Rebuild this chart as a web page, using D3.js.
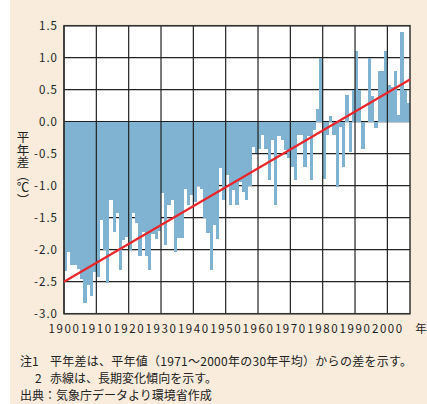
<!DOCTYPE html>
<html>
<head>
<meta charset="utf-8">
<script src="https://cdn.jsdelivr.net/npm/d3@7"></script>
<style>
body { margin: 0; background: #fff; }
text { font-family: "Noto Sans CJK JP", sans-serif; }
</style>
</head>
<body>
<script>
// 平年差 (℃), 1900年から1年ずつ
var firstYear = 1900;
var anomalies = [
    -2.33, -2.03, -2.24, -2.24, -2.30, -2.45, -2.83, -2.55, -2.73, -2.35,
    -2.42, -1.54, -2.00, -2.52, -1.22, -1.72, -1.43, -2.32, -1.85, -1.80,
    -2.00, -1.43, -1.58, -2.10, -1.72, -2.10, -2.32, -1.75, -1.83, -1.70,
    -1.12, -1.93, -1.30, -1.22, -2.03, -1.82, -1.82, -1.05, -1.30, -1.15,
    -1.25, -1.00, -1.05, -1.50, -1.74, -2.32, -1.62, -1.83, -0.72, -1.22,
    -0.83, -1.30, -1.07, -1.30, -0.94, -1.10, -1.22, -1.01, -0.39, -0.49,
    -0.42, -0.21, -0.42, -0.91, -0.29, -1.30, -0.23, -0.29, -0.44, -0.57,
    -0.70, -0.91, -0.20, -0.20, -0.70, -0.23, -0.91, -0.13, 0.20, 0.99,
    -0.90, -0.20, 0.09, -0.20, -1.02, -0.08, -0.70, 0.41, -0.48, 0.50,
    1.10, 0.50, -0.42, 0.00, 0.99, 0.40, -0.10, 0.80, 0.80, 1.10,
    0.58, 0.55, 0.80, 0.10, 1.40, 0.50, 0.30
];
var yTicks = [1.5, 1.0, 0.5, 0.0, -0.5, -1.0, -1.5, -2.0, -2.5, -3.0];
var xTicks = [1900, 1910, 1920, 1930, 1940, 1950, 1960, 1970, 1980, 1990, 2000];
var trendYears = [1900, 2007];
var trendValues = [-2.5, 0.66];
var yLabel = "平年差（℃）";
var xUnit = "年";
var notes = [
    ["注1", "平年差は、平年値（1971～2000年の30年平均）からの差を示す。"],
    ["2", "赤線は、長期変化傾向を示す。"],
    ["出典：気象庁データより環境省作成", ""]
];

var w = 427;
var h = 404;
var plotLeft = 64, plotRight = 410, plotTop = 25.7, plotBottom = 313.7;

var svg = d3.select("body")
    .append("svg")
    .attr("width", w)
    .attr("height", h);

svg.append("rect")
    .attr("x", 10)
    .attr("y", 0)
    .attr("width", w - 10)
    .attr("height", h)
    .attr("fill", "#f9ecdd");

var xScale = d3.scaleLinear()
    .domain([firstYear, trendYears[1]])
    .range([plotLeft, plotRight]);

var yScale = d3.scaleLinear()
    .domain([-3, 1.5])
    .range([plotBottom, plotTop]);

svg.append("rect")
    .attr("x", plotLeft)
    .attr("y", plotTop)
    .attr("width", plotRight - plotLeft)
    .attr("height", plotBottom - plotTop)
    .attr("fill", "#fff");

// 横の目盛線は棒の下
svg.append("g")
    .selectAll("line")
    .data(yTicks)
    .enter()
    .append("line")
    .attr("x1", plotLeft)
    .attr("x2", plotRight)
    .attr("y1", function(d) { return yScale(d); })
    .attr("y2", function(d) { return yScale(d); })
    .attr("stroke", "#222")
    .attr("stroke-width", 1.2);

svg.append("g")
    .selectAll("rect")
    .data(anomalies)
    .enter()
    .append("rect")
    .attr("x", function(d, i) { return xScale(firstYear + i); })
    .attr("width", function(d, i) { return xScale(firstYear + i + 1) - xScale(firstYear + i); })
    .attr("y", function(d) { return yScale(Math.max(d, 0)); })
    .attr("height", function(d) { return Math.abs(yScale(d) - yScale(0)); })
    .attr("fill", "#7fb3d1")
    .attr("shape-rendering", "crispEdges");

// 縦の目盛線は棒の上
svg.append("g")
    .selectAll("line")
    .data(xTicks)
    .enter()
    .append("line")
    .attr("x1", function(d) { return xScale(d); })
    .attr("x2", function(d) { return xScale(d); })
    .attr("y1", plotTop)
    .attr("y2", plotBottom)
    .attr("stroke", "#222")
    .attr("stroke-width", 1.2);

svg.append("rect")
    .attr("x", plotLeft)
    .attr("y", plotTop)
    .attr("width", plotRight - plotLeft)
    .attr("height", plotBottom - plotTop)
    .attr("fill", "none")
    .attr("stroke", "#333")
    .attr("stroke-width", 1.5);

svg.append("line")
    .attr("x1", xScale(trendYears[0]))
    .attr("y1", yScale(trendValues[0]))
    .attr("x2", xScale(trendYears[1]))
    .attr("y2", yScale(trendValues[1]))
    .attr("stroke", "#e8262b")
    .attr("stroke-width", 2.2);

var yAxis = d3.axisLeft(yScale)
    .tickValues(yTicks)
    .tickSize(0)
    .tickPadding(6)
    .tickFormat(function(d) { return d3.format(".1f")(d).replace("−", "-"); });

var gy = svg.append("g")
    .attr("transform", "translate(" + plotLeft + ",0)")
    .call(yAxis);
gy.select(".domain").remove();
gy.selectAll("text")
    .attr("font-family", "Noto Sans CJK JP")
    .attr("font-size", "11.5px")
    .attr("letter-spacing", "1px")
    .attr("fill", "#222");

var xAxis = d3.axisBottom(xScale)
    .tickValues(xTicks)
    .tickSize(0)
    .tickPadding(11)
    .tickFormat(function(d) { return d; });

var gx = svg.append("g")
    .attr("transform", "translate(0," + plotBottom + ")")
    .call(xAxis);
gx.select(".domain").remove();
gx.selectAll("text")
    .attr("font-family", "Noto Sans CJK JP")
    .attr("font-size", "11.5px")
    .attr("letter-spacing", "1.6px")
    .attr("fill", "#222");

svg.append("text")
    .attr("x", 421)
    .attr("y", 333)
    .attr("text-anchor", "middle")
    .attr("font-size", "11.5px")
    .attr("fill", "#222")
    .text(xUnit);

svg.append("text")
    .attr("x", 23)
    .attr("y", 131)
    .style("writing-mode", "vertical-rl")
    .attr("font-size", "12.5px")
    .attr("fill", "#222")
    .text(yLabel);

var noteY = [366, 383, 400];
var noteWidth = [362, 167, 0];
notes.forEach(function(n, i) {
    svg.append("text")
        .attr("x", i == 1 ? 35 : 20)
        .attr("y", noteY[i])
        .attr("font-size", "12px")
        .attr("fill", "#222")
        .text(n[0]);
    if (n[1]) {
        svg.append("text")
            .attr("x", 50)
            .attr("y", noteY[i])
            .attr("font-size", "12px")
            .attr("fill", "#222")
            .attr("textLength", noteWidth[i])
            .attr("lengthAdjust", "spacing")
            .text(n[1]);
    }
});
</script>
</body>
</html>
